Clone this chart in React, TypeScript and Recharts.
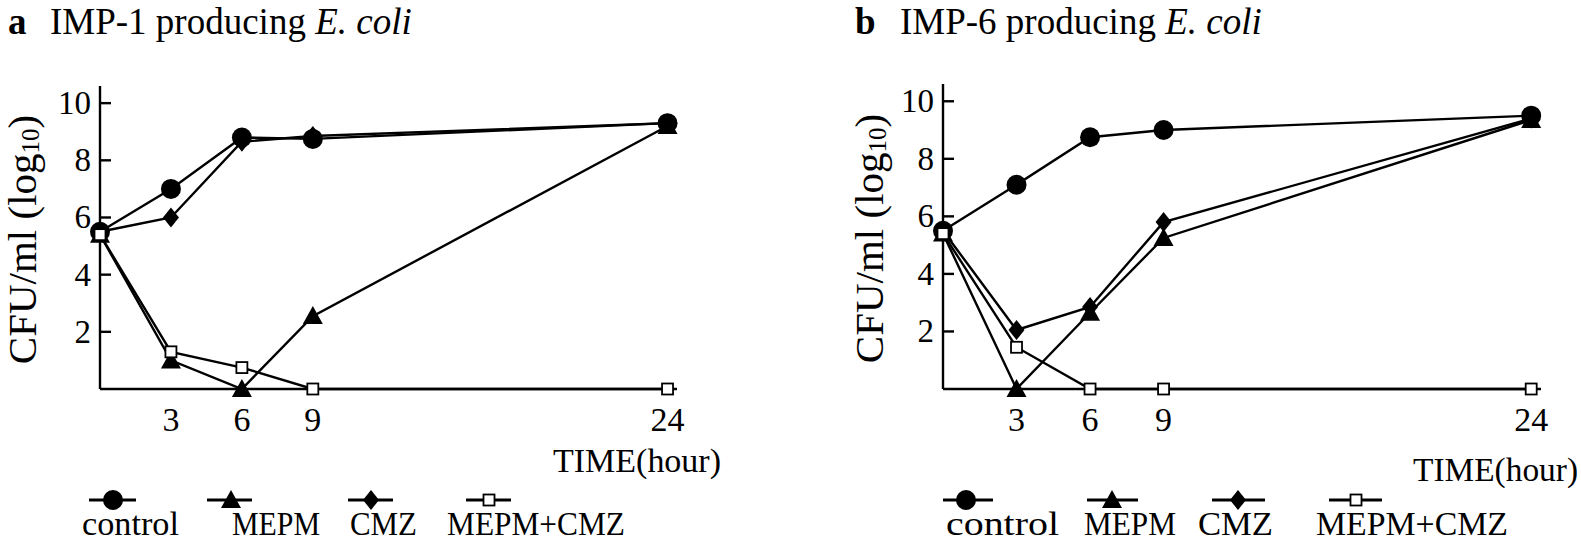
import React from 'react';
import { LineChart, Line, XAxis, YAxis } from 'recharts';

const hours = [0, 3, 6, 9, 24];
const xTicks = [3, 6, 9, 24];
const yTicks = [2, 4, 6, 8, 10];

// IMP-1 producing E. coli
const controlA = [5.5, 7.0, 8.8, 8.75, 9.3];
const mepmA = [5.4, 1.0, 0.0, 2.55, 9.2];
const cmzA = [5.5, 6.0, 8.65, 8.85, 9.3];
const comboA = [5.4, 1.3, 0.75, 0.0, 0.0];

// IMP-6 producing E. coli
const controlB = [5.5, 7.1, 8.75, 9.0, 9.5];
const mepmB = [5.4, 0.0, 2.65, 5.25, 9.35];
const cmzB = [5.5, 2.05, 2.85, 5.8, 9.4];
const comboB = [5.4, 1.45, 0.0, 0.0, 0.0];

const seriesNames = ['control', 'MEPM', 'CMZ', 'MEPM+CMZ'];

const FONT = '"Liberation Serif", "Times New Roman", serif';

const build = (c: number[], m: number[], z: number[], mc: number[]) =>
  hours.map((h, i) => ({ hour: h, control: c[i], MEPM: m[i], CMZ: z[i], 'MEPM+CMZ': mc[i] }));

const dataA = build(controlA, mepmA, cmzA, comboA);
const dataB = build(controlB, mepmB, cmzB, comboB);

type Shape = 'circle' | 'triangle' | 'diamond' | 'square';
const shapes: Shape[] = ['circle', 'triangle', 'diamond', 'square'];

function drawShape(shape: Shape, cx: number, cy: number, key?: string) {
  if (shape === 'circle') return <circle key={key} cx={cx} cy={cy} r={10} fill="#000" />;
  if (shape === 'triangle')
    return <polygon key={key} points={`${cx},${cy - 10} ${cx + 10},${cy + 8} ${cx - 10},${cy + 8}`} fill="#000" />;
  if (shape === 'diamond')
    return <polygon key={key} points={`${cx},${cy - 10} ${cx + 8},${cy} ${cx},${cy + 10} ${cx - 8},${cy}`} fill="#000" />;
  return <rect key={key} x={cx - 5.5} y={cy - 5.5} width={11} height={11} fill="#fff" stroke="#000" strokeWidth={1.8} />;
}

const makeDot = (shape: Shape) => (props: any) => {
  const { cx, cy, index } = props;
  if (cx == null || cy == null) return <g key={index} />;
  return drawShape(shape, cx, cy, `${shape}-${index}`);
};

const YTick = (props: any) => {
  const { x, y, payload } = props;
  return (
    <g>
      <text x={x} y={y} textAnchor="end" dominantBaseline="central" fontSize={33} fontFamily={FONT} fill="#000">
        {payload.value}
      </text>
      <line x1={x + 9} x2={x + 20} y1={y} y2={y} stroke="#000" strokeWidth={2.4} />
    </g>
  );
};

const makeYLabel = (dx: number) => (props: any) => {
  const { viewBox } = props;
  const cx = viewBox.x + dx;
  const cy = viewBox.y + viewBox.height / 2 + 2;
  return (
    <text
      x={cx}
      y={cy}
      transform={`rotate(-90 ${cx} ${cy})`}
      textAnchor="middle"
      dominantBaseline="central"
      fontSize={41}
      fontFamily={FONT}
      fill="#000"
    >
      CFU/ml (log
      <tspan fontSize={25} dy={8}>10</tspan>
      <tspan dy={-8}>)</tspan>
    </text>
  );
};

function Panel({ data, width, top, labelDx }: { data: any[]; width: number; top: number; labelDx: number }) {
  return (
    <LineChart width={width} height={541} data={data} margin={{ top, right: 20, bottom: 112, left: 0 }}>
      <XAxis
        dataKey="hour"
        type="number"
        domain={[0, 24.4]}
        ticks={xTicks}
        tickLine={false}
        tickSize={0}
        tickMargin={18}
        height={40}
        axisLine={{ stroke: '#000', strokeWidth: 2.4 }}
        tick={{ fill: '#000', fontSize: 34, fontFamily: FONT }}
      />
      <YAxis
        type="number"
        domain={[0, 10.6]}
        ticks={yTicks}
        width={100}
        tickLine={false}
        tickSize={0}
        tickMargin={9}
        axisLine={{ stroke: '#000', strokeWidth: 2.4 }}
        tick={<YTick />}
        label={{ content: makeYLabel(labelDx) }}
      />
      {seriesNames.map((name, i) => (
        <Line
          key={name}
          dataKey={name}
          stroke="#000"
          strokeWidth={2.4}
          dot={makeDot(shapes[i])}
          activeDot={false}
          isAnimationActive={false}
        />
      ))}
    </LineChart>
  );
}

const legendA = [
  { line: [89, 136], mark: 113, text: 82, len: 97 },
  { line: [207, 252], mark: 231, text: 232, len: 88 },
  { line: [348, 393], mark: 371, text: 350, len: 67 },
  { line: [466, 511], mark: 489, text: 447, len: 178 },
];
const legendB = [
  { line: [943, 993], mark: 966, text: 946, len: 113 },
  { line: [1087, 1138], mark: 1112, text: 1084, len: 92 },
  { line: [1212, 1265], mark: 1238, text: 1198, len: 75 },
  { line: [1329, 1382], mark: 1356, text: 1316, len: 192 },
];

function Legend({ items }: { items: typeof legendA }) {
  return (
    <g>
      {items.map((it, i) => (
        <g key={seriesNames[i]}>
          <line x1={it.line[0]} x2={it.line[1]} y1={500} y2={500} stroke="#000" strokeWidth={2.8} />
          {drawShape(shapes[i], it.mark, 500)}
          <text
            x={it.text}
            y={535}
            fontSize={33}
            fontFamily={FONT}
            fill="#000"
            textLength={it.len}
            lengthAdjust="spacingAndGlyphs"
          >
            {seriesNames[i]}
          </text>
        </g>
      ))}
    </g>
  );
}

export default function App() {
  return (
    <div style={{ position: 'absolute', left: 0, top: 0, width: 1581, height: 541, background: '#fff', overflow: 'hidden' }}>
      <div style={{ position: 'absolute', left: 0, top: 0 }}>
        <Panel data={dataA} width={697} top={86} labelDx={22} />
      </div>
      <div style={{ position: 'absolute', left: 843, top: 0 }}>
        <Panel data={dataB} width={718} top={84} labelDx={26} />
      </div>
      <svg width={1581} height={541} style={{ position: 'absolute', left: 0, top: 0, pointerEvents: 'none' }}>
        <text x={8} y={34} fontSize={37} fontFamily={FONT} fill="#000">
          <tspan fontWeight="bold">a</tspan>
          <tspan x={50}>IMP-1 producing </tspan>
          <tspan fontStyle="italic">E. coli</tspan>
        </text>
        <text x={855} y={34} fontSize={37} fontFamily={FONT} fill="#000">
          <tspan fontWeight="bold">b</tspan>
          <tspan x={900}>IMP-6 producing </tspan>
          <tspan fontStyle="italic">E. coli</tspan>
        </text>
        <text x={553} y={472} fontSize={34} fontFamily={FONT} fill="#000" textLength={168} lengthAdjust="spacingAndGlyphs">
          TIME(hour)
        </text>
        <text x={1413} y={481} fontSize={34} fontFamily={FONT} fill="#000" textLength={165} lengthAdjust="spacingAndGlyphs">
          TIME(hour)
        </text>
        <Legend items={legendA} />
        <Legend items={legendB} />
      </svg>
    </div>
  );
}
